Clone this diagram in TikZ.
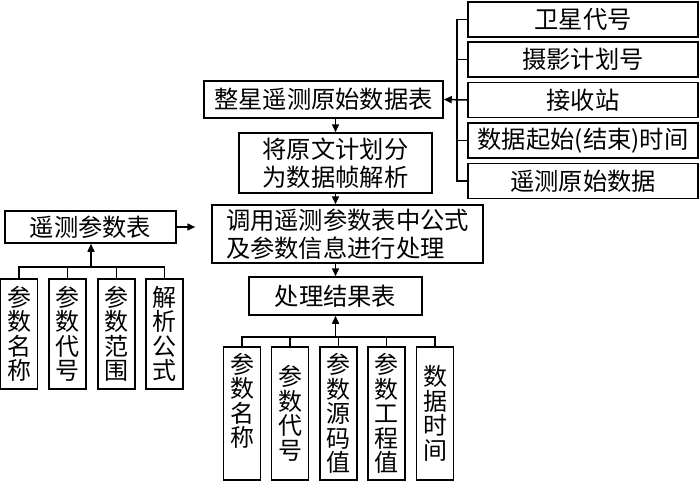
\documentclass[tikz,border=0pt]{standalone}
\usepackage{fontspec}
\newfontfamily\cjk{Noto Sans CJK SC}
\usetikzlibrary{arrows.meta}
\begin{document}
\begin{tikzpicture}[x=1pt,y=-1pt,line width=1.5pt,
  box/.style={draw,rectangle,inner sep=0pt,font=\cjk\fontsize{24.3}{28}\selectfont,align=center},
  vbox/.style={draw,rectangle,inner sep=0pt,font=\cjk\fontsize{24}{24.5}\selectfont,align=center,minimum width=37pt},
  vtext/.style={inner sep=0pt,font=\cjk\fontsize{24}{24.5}\selectfont,align=center},
  arr/.style={-{Triangle[length=8pt,width=7pt]}}]
\useasboundingbox (0,0) rectangle (700,483);
% right column
\node[box,minimum width=230pt,minimum height=35pt] (r1) at (583,19.5) {卫星代号};
\node[box,minimum width=230pt,minimum height=35pt] (r2) at (583,59.5) {摄影计划号};
\node[box,minimum width=230pt,minimum height=35pt] (r3) at (583,100) {接收站};
\node[box,minimum width=230pt,minimum height=35pt] (r4) at (583,140.5) {数据起始(结束)时间};
\node[box,minimum width=230pt,minimum height=35pt] (r5) at (583,181) {遥测原始数据};
% main column
\node[box,minimum width=239pt,minimum height=37pt] (zx) at (323.5,99.5) {整星遥测原始数据表};
\node[box,minimum width=193pt,minimum height=60pt] (jy) at (335.5,163) {将原文计划分\\为数据帧解析};
\node[box,align=left,minimum width=271pt,minimum height=58pt] (dy) at (347.5,234) {调用遥测参数表中公式\\及参数信息进行处理};
\node[box,minimum width=173pt,minimum height=38pt] (cl) at (335.5,296) {处理结果表};
\node[box,minimum width=171pt,minimum height=32pt] (yc) at (90.5,227) {遥测参数表};
% left bottom boxes
\node[vbox,minimum height=110pt] (lb1) at (19,334) {参\\数\\名\\称};
\node[vbox,minimum height=110pt] (lb2) at (67.5,334) {参\\数\\代\\号};
\node[vbox,minimum height=110pt] (lb3) at (116.5,334) {参\\数\\范\\围};
\node[vbox,minimum height=110pt] (lb4) at (164.5,334) {解\\析\\公\\式};
% bottom boxes
\node[vbox,minimum height=133pt] (bb1) at (242,413.5) {};
\node[vtext,anchor=north] (t1) at ([yshift=-6pt]bb1.north) {参\\数\\名\\称};
\node[vbox,minimum height=133pt] (bb2) at (290,413.5) {参\\数\\代\\号};
\node[vbox,minimum height=133pt] (bb3) at (338.5,413.5) {参\\数\\源\\码\\值};
\node[vbox,minimum height=133pt] (bb4) at (386.5,413.5) {参\\数\\工\\程\\值};
\node[vbox,minimum height=133pt] (bb5) at (435,413.5) {数\\据\\时\\间};
% bracket on the right
\coordinate (bk) at (457,100);
\draw (r1.west) -- (r1.west -| bk) -- (r5.west -| bk) -- (r5.west);
\draw (r2.west) -- (r2.west -| bk);
\draw (r4.west) -- (r4.west -| bk);
\draw[arr] (r3.west) -- (zx.east);
% main flow
\draw[arr] (zx.south -| jy.north) -- (jy.north);
\draw[arr] (jy.south) -- (jy.south |- dy.north);
\draw[arr] (dy.south -| cl.north) -- (cl.north);
\draw[arr,shorten >=16pt] (yc.east) -- (yc.east -| dy.west);
% left bus
\coordinate (lbus) at (91,267);
\draw (lb1.north) -- (lb1.north |- lbus) -- (lb4.north |- lbus) -- (lb4.north);
\draw (lb2.north) -- (lb2.north |- lbus);
\draw (lb3.north) -- (lb3.north |- lbus);
\draw[arr] (lbus) -- (lbus |- yc.south);
% bottom bus
\coordinate (bbus) at (335.5,337);
\draw (bb1.north) -- (bb1.north |- bbus) -- (bb5.north |- bbus) -- (bb5.north);
\draw (bb2.north) -- (bb2.north |- bbus);
\draw (bb3.north) -- (bb3.north |- bbus);
\draw (bb4.north) -- (bb4.north |- bbus);
\draw[arr] (bbus) -- (cl.south);
\end{tikzpicture}
\end{document}
